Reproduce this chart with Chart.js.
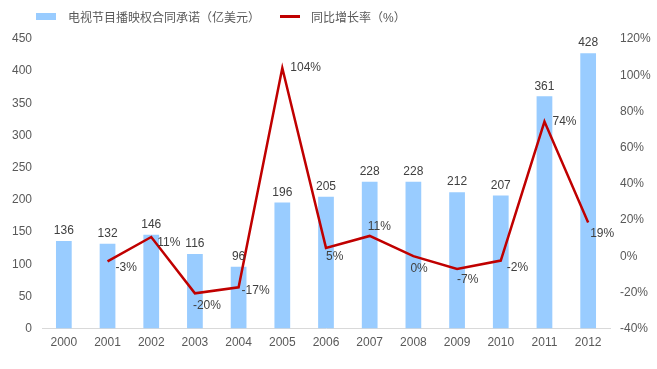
<!DOCTYPE html>
<html>
<head>
<meta charset="utf-8">
<script src="https://cdn.jsdelivr.net/npm/chart.js@4.4.1/dist/chart.umd.min.js"></script>
<style>
  html, body { margin: 0; padding: 0; background: #fff; }
  #wrap { width: 657px; height: 369px; position: relative; }
  #legend {
    position: absolute; left: 36px; top: 8px; height: 16px;
    display: flex; align-items: center;
    font: 12px 'Liberation Sans', Arial, 'Noto Sans CJK SC', sans-serif; color: #595959;
  }
  #legend .box  { width: 20px; height: 7px; background: #99CCFF; margin-right: 12px; }
  #legend .ln   { width: 20px; height: 3px; background: #C00000; margin: 0 11px 0 20px; }
</style>
</head>
<body>
<div id="wrap">
  <div id="legend"></div>
  <canvas id="chart"></canvas>
</div>
<script>
// datos
const years    = ['2000', '2001', '2002', '2003', '2004', '2005', '2006', '2007', '2008', '2009', '2010', '2011', '2012'];
const amounts  = [136, 132, 146, 116, 96, 196, 205, 228, 228, 212, 207, 361, 428];
const growth   = [null, -2.9, 10.6, -20.5, -17.2, 104, 4.6, 11.2, 0, -7.0, -2.4, 74.4, 18.6];
const growthLabels = ['', '-3%', '11%', '-20%', '-17%', '104%', '5%', '11%', '0%', '-7%', '-2%', '74%', '19%'];
const seriesNames  = ['电视节目播映权合同承诺（亿美元）', '同比增长率（%）'];

// desplazamiento de cada etiqueta de la línea (dx, dy)
const lineLabelOffsets = [
  [0, 0], [8, 6], [6, 6], [-2, 12], [3, 3], [8, 0], [0, 9], [-2, -9], [-3, 12], [0, 11], [6, 7], [8, 0], [2, 11],
];

const BAR  = '#99CCFF';
const LINE = '#C00000';
const TXT  = '#595959';
const FONT = "'Liberation Sans', Arial, 'Noto Sans CJK SC', sans-serif";

// leyenda en HTML
document.getElementById('legend').innerHTML =
  `<span class="box"></span><span>${seriesNames[0]}</span><span class="ln"></span><span>${seriesNames[1]}</span>`;

const labelPlugin = {
  id: 'valueLabels',
  afterDatasetsDraw(chart) {
    const ctx = chart.ctx;
    ctx.save();
    ctx.font = '12px ' + FONT;
    ctx.fillStyle = '#404040';
    ctx.textBaseline = 'middle';

    ctx.textAlign = 'center';
    chart.getDatasetMeta(1).data.forEach((bar, i) => {
      ctx.fillText(String(amounts[i]), bar.x, bar.y - 10);
    });

    ctx.textAlign = 'left';
    chart.getDatasetMeta(0).data.forEach((pt, i) => {
      if (growth[i] === null) return;
      const [dx, dy] = lineLabelOffsets[i];
      ctx.fillText(growthLabels[i], pt.x + dx, pt.y + dy);
    });
    ctx.restore();
  },
};

new Chart(document.getElementById('chart'), {
  data: {
    labels: years,
    datasets: [
      {
        type: 'line',
        label: seriesNames[1],
        data: growth,
        yAxisID: 'y2',
        borderColor: LINE,
        backgroundColor: LINE,
        borderWidth: 2.5,
        pointRadius: 0,
        tension: 0,
        order: 0,
      },
      {
        type: 'bar',
        label: seriesNames[0],
        data: amounts,
        yAxisID: 'y',
        backgroundColor: BAR,
        borderWidth: 0,
        categoryPercentage: 1,
        barPercentage: 0.36,
        order: 1,
      },
    ],
  },
  options: {
    responsive: true,
    maintainAspectRatio: false,
    animation: false,
    layout: { padding: { left: 4, right: 2, top: 39, bottom: 12 } },
    plugins: {
      legend: { display: false },
      tooltip: { enabled: false },
    },
    scales: {
      x: {
        grid: { display: false, drawTicks: false },
        border: { color: '#d9d9d9', width: 1 },
        ticks: { color: TXT, font: { size: 12, family: FONT }, padding: 7 },
      },
      y: {
        position: 'left',
        min: 0, max: 450,
        grid: { display: false, drawTicks: false },
        border: { display: false },
        ticks: { stepSize: 50, color: TXT, font: { size: 12, family: FONT }, padding: 10 },
        afterFit: s => { s.width = 38; },
      },
      y2: {
        position: 'right',
        min: -40, max: 120,
        grid: { display: false, drawTicks: false },
        border: { display: false },
        ticks: { stepSize: 20, color: TXT, font: { size: 12, family: FONT }, padding: 10, callback: v => v + '%' },
        afterFit: s => { s.width = 45; },
      },
    },
  },
  plugins: [labelPlugin],
});
</script>
</body>
</html>
